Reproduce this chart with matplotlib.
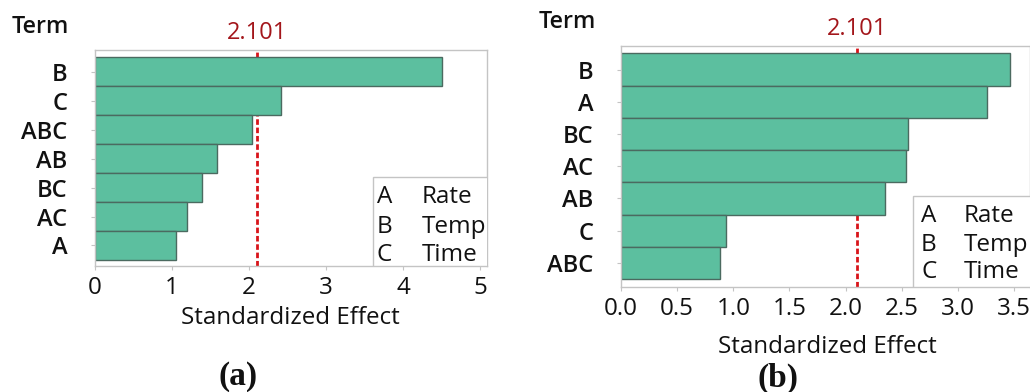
import matplotlib
matplotlib.use('Agg')
import matplotlib.pyplot as plt
from matplotlib.patches import Rectangle
import numpy as np

# Pareto chart data, listed top to bottom
terms_a = ['B', 'C', 'ABC', 'AB', 'BC', 'AC', 'A']
effects_a = [4.50, 2.41, 2.04, 1.58, 1.39, 1.19, 1.05]

terms_b = ['B', 'A', 'BC', 'AC', 'AB', 'C', 'ABC']
effects_b = [3.46, 3.26, 2.555, 2.537, 2.35, 0.936, 0.882]

critical = 2.101
factor_keys = ['A', 'B', 'C']
factor_names = ['Rate', 'Temp', 'Time']

plt.rcParams['font.family'] = ['Open Sans', 'DejaVu Sans']

bar_color = '#5cbf9f'
edge_color = '#4b6a60'
spine_color = '#c4c4c4'
text_color = '#111111'
line_color = '#d8141a'
label_red = '#a3161b'

fig = plt.figure(figsize=(10.3, 3.92), dpi=100)


def pareto(ax, terms, effects, xlim, ylim, xticks, xfmt, box, keys_x, rows_y):
    pos = np.arange(len(terms))[::-1]
    ax.barh(pos, effects, height=1.0, color=bar_color, edgecolor=edge_color,
            linewidth=1.0, zorder=2)
    ax.axvline(critical, color=line_color, lw=2.0, dashes=(2.0, 1.0), zorder=1.5)
    ax.annotate(f'{critical:.3f}', xy=(critical, 1.0),
                xycoords=('data', 'axes fraction'), xytext=(0, 12),
                textcoords='offset points', ha='center', va='center',
                color=label_red, fontsize=17)
    ax.set_xlim(*xlim)
    ax.set_ylim(*ylim)
    ax.set_yticks(pos)
    ax.set_yticklabels(terms, fontsize=17, fontweight='semibold', color=text_color)
    ax.set_xticks(xticks)
    ax.set_xticklabels([xfmt.format(t) for t in xticks], fontsize=17.4, color=text_color)
    ax.tick_params(axis='y', length=3, color=spine_color, pad=17)
    ax.tick_params(axis='x', length=3, color=spine_color, pad=4)
    for s in ax.spines.values():
        s.set_color(spine_color)
        s.set_linewidth(1.0)

    # factor key box in the lower right corner
    ax.add_patch(Rectangle((box[0], 0), 1.2, box[1], transform=ax.transAxes,
                           facecolor='white', edgecolor=spine_color,
                           linewidth=1.0, zorder=3, clip_on=True))
    for k, name, y in zip(factor_keys, factor_names, rows_y):
        ax.text(keys_x[0], y, k, transform=ax.transAxes, fontsize=17.5,
                va='center', ha='left', color=text_color, zorder=4)
        ax.text(keys_x[1], y, name, transform=ax.transAxes, fontsize=17.5,
                va='center', ha='left', color=text_color, zorder=4)


ax_a = fig.add_axes([0.0922, 0.3214, 0.3806, 0.551])
pareto(ax_a, terms_a, effects_a, (0, 5.09), (-0.71, 6.75), [0, 1, 2, 3, 4, 5], '{:d}',
       (0.709, 0.412), (0.719, 0.833), (0.321, 0.182, 0.051))

ax_b = fig.add_axes([0.6029, 0.2679, 0.3975, 0.6155])
pareto(ax_b, terms_b, effects_b, (0, 3.645), (-0.75, 6.74),
       [0.0, 0.5, 1.0, 1.5, 2.0, 2.5, 3.0, 3.5], '{:.1f}',
       (0.713, 0.378), (0.733, 0.836), (0.295, 0.174, 0.062))

# axis titles and panel labels
fig.text(40 / 1030, 1 - 27 / 392, 'Term', fontsize=16.8, fontweight='semibold',
         ha='center', va='center', color=text_color)
fig.text(567 / 1030, 1 - 22 / 392, 'Term', fontsize=16.8, fontweight='semibold',
         ha='center', va='center', color=text_color)
fig.text(290 / 1030, 1 - 318 / 392, 'Standardized Effect', fontsize=17.4,
         ha='center', va='center', color=text_color)
fig.text(827 / 1030, 1 - 347 / 392, 'Standardized Effect', fontsize=17.4,
         ha='center', va='center', color=text_color)
fig.text(238 / 1030, 1 - 377 / 392, '(a)', fontsize=24, fontweight='bold',
         family='Liberation Serif', ha='center', va='center', color=text_color)
fig.text(778 / 1030, 1 - 378 / 392, '(b)', fontsize=24, fontweight='bold',
         family='Liberation Serif', ha='center', va='center', color=text_color)

fig.savefig('out.png', dpi=100)
plt.close(fig)
